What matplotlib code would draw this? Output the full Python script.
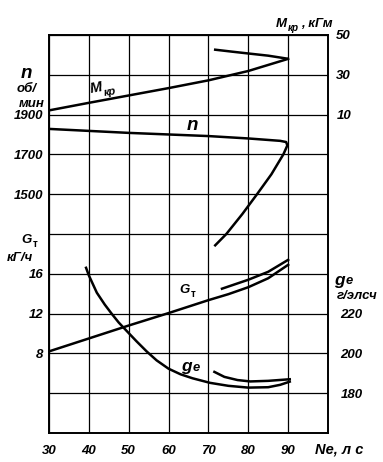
import numpy as np
import matplotlib
matplotlib.use("Agg")
import matplotlib.pyplot as plt

plt.rcParams['font.family'] = ['Liberation Sans', 'DejaVu Sans']
plt.rcParams['font.style'] = 'italic'
plt.rcParams['font.weight'] = 'bold'

# --- data (Ne, л.с.) ---
ne_m = [30, 40, 50, 60, 70, 80, 90]
m_kr = [12.1, 15.9, 19.6, 23.3, 27.2, 31.9, 38.0]
ne_m2 = [71.7, 76, 80, 85, 89.8]
m_kr2 = [42.6, 41.6, 40.7, 39.6, 38.1]

ne_n = [30, 40, 50, 60, 70, 80, 88, 89.5, 89.8, 88.8, 85.8, 82.2, 78.5, 74.5, 71.7]
n_ob = [1828, 1818, 1808, 1800, 1792, 1780, 1768, 1762, 1745, 1700, 1600, 1500, 1400, 1300, 1243]

ne_g = [30, 40, 50, 60, 70, 75, 80, 85, 90]
g_t = [8.2, 9.5, 10.8, 12.05, 13.35, 13.95, 14.65, 15.55, 16.9]
ne_g2 = [73.4, 80, 85, 90]
g_t2 = [14.5, 15.4, 16.2, 17.4]

ne_ge = [39.3, 40, 42, 44, 45.7, 47.5, 50, 52, 54.5, 57, 60, 63, 66, 70.4, 75, 80, 85, 88, 90.4]
ge = [243, 239.2, 230.5, 224.5, 220, 215.5, 210.2, 206, 201, 196.5, 192.3, 189.5, 187.5,
      185.2, 183.7, 182.8, 183.0, 184.2, 185.8]
ne_ge2 = [71.5, 74, 77.3, 80.5, 85, 90.4]
ge2 = [190.7, 188.2, 186.6, 185.9, 186.2, 187.0]

fig = plt.figure(figsize=(3.83, 4.62), dpi=100)
ax = fig.add_axes([0.1279, 0.0628, 0.7285, 0.8615])

fs = 9.5
lw = 1.8


def sub_text(a, x, y, main, sub, size, coords, rot=0, dy=-3, style='italic'):
    # letter with a small subscript, like M_кр or G_т
    a.annotate(main, (x, y), xycoords=coords, fontsize=size, ha='right', va='center',
               rotation=rot, annotation_clip=False)
    a.annotate(sub, (x, y), xycoords=coords, xytext=(0.5, dy), textcoords='offset points',
               fontsize=size * 0.75, ha='left', va='center', rotation=rot,
               fontstyle=style, annotation_clip=False)


# base axis: G_t, kG/h (left, lower part) + grid
ax.set_xlim(30, 100)
ax.set_ylim(0, 40)
ax.set_xticks(np.arange(30, 101, 10))
ax.set_xticklabels([str(v) if v < 100 else '' for v in range(30, 101, 10)], fontsize=fs)
ax.set_yticks(np.arange(0, 41, 4))
ax.set_yticklabels([str(v) if v in (8, 12, 16) else '' for v in range(0, 41, 4)], fontsize=fs)
ax.grid(True, color='black', lw=0.9)
ax.tick_params(axis='y', length=0, pad=4)
ax.tick_params(axis='x', length=0, pad=9)
for s in ax.spines.values():
    s.set_linewidth(1.4)
ax.plot(ne_g, g_t, color='black', lw=lw)
ax.plot(ne_g2, g_t2, color='black', lw=lw)

# n, rpm (left, upper part)
ax_n = ax.twinx()
ax_n.yaxis.tick_left()
ax_n.set_ylim(300, 2300)
ax_n.set_yticks([1500, 1700, 1900])
ax_n.set_yticklabels(['1500', '1700', '1900'], fontsize=fs)
ax_n.tick_params(length=0, pad=4)
ax_n.plot(ne_n, n_ob, color='black', lw=lw)

# M_kr, kGm (right, upper part)
ax_m = ax.twinx()
ax_m.set_ylim(-150, 50)
ax_m.set_yticks([10, 30, 50])
ax_m.set_yticklabels(['10', '30', '50'], fontsize=fs)
ax_m.tick_params(length=0, pad=6)
ax_m.plot(ne_m, m_kr, color='black', lw=lw)
ax_m.plot(ne_m2, m_kr2, color='black', lw=lw)

# g_e, g/hp.h (right, lower part)
ax_ge = ax.twinx()
ax_ge.set_ylim(160, 360)
ax_ge.set_yticks([180, 200, 220])
ax_ge.set_yticklabels(['180', '200', '220'], fontsize=fs)
ax_ge.tick_params(length=0, pad=9)
ax_ge.plot(ne_ge, ge, color='black', lw=lw)
ax_ge.plot(ne_ge2, ge2, color='black', lw=lw)

for a in (ax_n, ax_m, ax_ge):
    for s in a.spines.values():
        s.set_visible(False)

# curve labels
sub_text(ax_m, 43.5, 23.5, 'M', 'кр', fs + 1, 'data', rot=10)
ax_n.text(65.9, 1846, 'n', fontsize=fs + 4, ha='center', va='center')
sub_text(ax, 65.4, 14.4, 'G', 'т', fs, 'data', style='normal')
sub_text(ax_ge, 65.8, 193.5, 'g', 'e', fs + 3, 'data', dy=-1)

# axis titles
fig.text(26 / 383, 1 - 73 / 462, 'n', fontsize=fs + 4, ha='center', va='center')
fig.text(27 / 383, 1 - 89 / 462, 'об/', fontsize=fs, ha='center', va='center')
fig.text(32 / 383, 1 - 104 / 462, 'мин', fontsize=fs, ha='center', va='center')
sub_text(ax, 32 / 383, 1 - 240 / 462, 'G', 'т', fs, 'figure fraction', style='normal')
fig.text(20 / 383, 1 - 258 / 462, 'кГ/ч', fontsize=fs, ha='center', va='center')
sub_text(ax, 287 / 383, 1 - 24 / 462, 'M', 'кр', fs, 'figure fraction')
fig.text(301 / 383, 1 - 24 / 462, ', кГм', fontsize=fs, ha='left', va='center')
sub_text(ax, 345 / 383, 1 - 280 / 462, 'g', 'e', fs + 3, 'figure fraction', dy=-1)
fig.text(357 / 383, 1 - 296 / 462, 'г/элсч', fontsize=fs, ha='center', va='center')
fig.text(339 / 383, 1 - 450 / 462, 'Ne, л с', fontsize=fs + 1, ha='center', va='center')

fig.savefig('out.png', dpi=100)
